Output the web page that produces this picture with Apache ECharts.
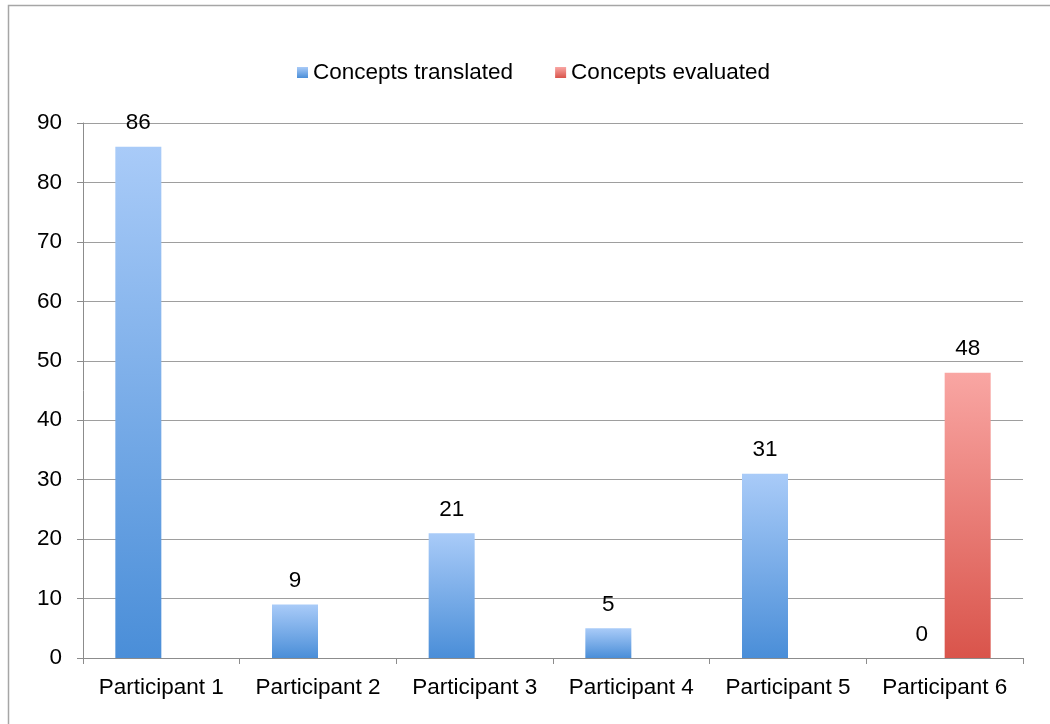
<!DOCTYPE html>
<html>
<head>
<meta charset="utf-8">
<script src="https://cdn.jsdelivr.net/npm/echarts@6/dist/echarts.min.js"></script>
<style>
  html, body { margin: 0; padding: 0; background: #fff; }
  #chart { width: 1050px; height: 724px; }
</style>
</head>
<body>
<div id="chart"></div>
<script>
const categories = ['Participant 1', 'Participant 2', 'Participant 3', 'Participant 4', 'Participant 5', 'Participant 6'];
const translated = [86, 9, 21, 5, 31, 0];
const evaluated = [null, null, null, null, null, 48];
const seriesNames = ['Concepts translated', 'Concepts evaluated'];
const yTicks = { min: 0, max: 90, interval: 10 };

const font = 'Liberation Sans, Arial, Helvetica, sans-serif';
const fs = 22.5;

function vGrad(top, bottom) {
  return new echarts.graphic.LinearGradient(0, 0, 0, 1, [
    { offset: 0, color: top },
    { offset: 1, color: bottom }
  ]);
}

const valueLabel = {
  show: true,
  position: 'top',
  distance: 12,
  color: '#000',
  fontSize: fs,
  fontFamily: font
};

const chart = echarts.init(document.getElementById('chart'), null, { renderer: 'canvas' });
chart.setOption({
  animation: false,
  backgroundColor: '#fff',
  graphic: [{
    type: 'rect',
    shape: { x: 8.5, y: 5.5, width: 1100, height: 800 },
    style: { fill: 'none', stroke: '#a6a6a6', lineWidth: 1.5 },
    silent: true
  }],
  legend: {
    left: 292,
    top: 56,
    itemWidth: 11,
    itemHeight: 11,
    itemGap: 42,
    icon: 'rect',
    textStyle: { color: '#000', fontSize: 22.5, fontFamily: font },
    data: seriesNames
  },
  grid: { left: 83, right: 27, top: 123, bottom: 66, containLabel: false },
  xAxis: {
    type: 'category',
    data: categories,
    axisLine: { lineStyle: { color: '#8c8c8c', width: 1 } },
    axisTick: { show: true, interval: 0, length: 6, lineStyle: { color: '#8c8c8c' } },
    axisLabel: { interval: 0, color: '#000', fontSize: fs, fontFamily: font, margin: 18 },
    splitLine: { show: false }
  },
  yAxis: {
    type: 'value',
    min: yTicks.min,
    max: yTicks.max,
    interval: yTicks.interval,
    axisLine: { show: true, lineStyle: { color: '#8c8c8c', width: 1 } },
    axisTick: { show: true, length: 6, lineStyle: { color: '#8c8c8c' } },
    axisLabel: { color: '#000', fontSize: fs, fontFamily: font, margin: 21 },
    splitLine: { show: true, lineStyle: { color: '#9e9e9e', width: 1 } }
  },
  series: [
    {
      name: seriesNames[0],
      type: 'bar',
      data: translated,
      barWidth: 46,
      barGap: '0%',
      itemStyle: { color: vGrad('#a9cbf8', '#4a8ed8') },
      label: valueLabel
    },
    {
      name: seriesNames[1],
      type: 'bar',
      data: evaluated,
      barWidth: 46,
      barGap: '0%',
      itemStyle: { color: vGrad('#f9a6a3', '#d9544b') },
      label: valueLabel
    }
  ]
});
</script>
</body>
</html>
